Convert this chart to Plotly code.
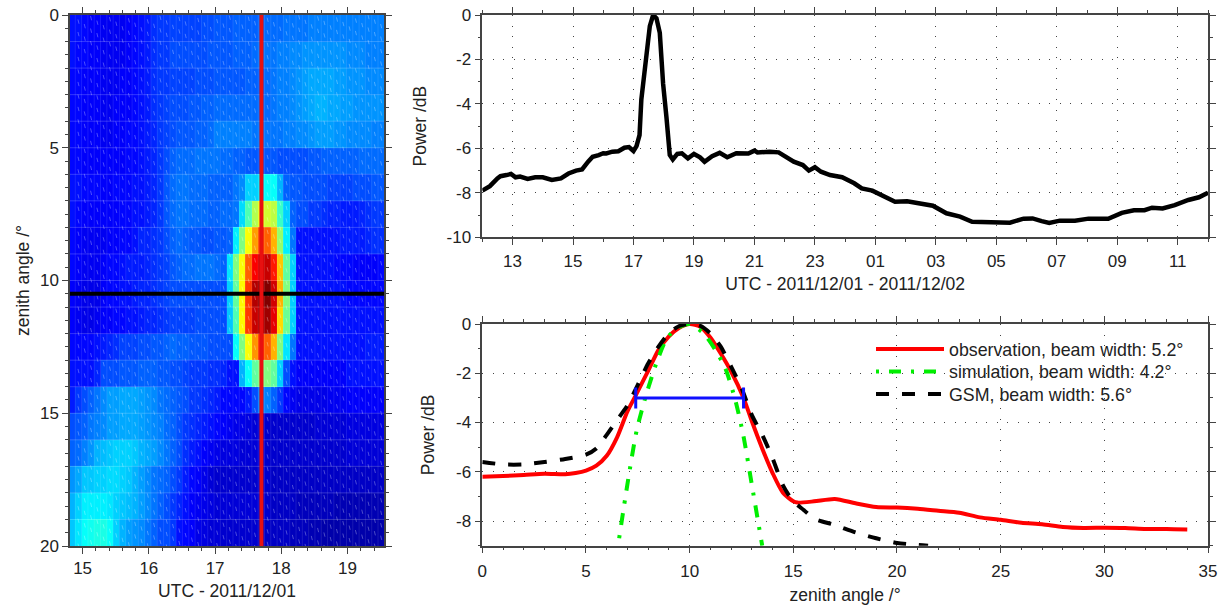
import plotly.graph_objects as go

# ---- heat map: one row per degree of zenith angle, one value per time column (level in % of the colour range)
row_00 = [14,14,13,12,12, 11,11,11,11,12, 13,14,15,17,18, 18,19,19,19,19, 19,20,20,21,21, 21,22,22,22,22, 23,23,23,23,24, 24,24,24,25,25, 25,25,25,25,25, 25,25,25,25,25]
row_01 = [14,13,13,12,12, 11,11,11,11,12, 13,14,15,17,18, 18,20,20,20,20, 20,20,21,21,21, 21,22,22,22,23, 24,24,24,25,25, 26,26,27,27,27, 27,27,27,27,26, 26,26,25,25,25]
row_02 = [13,13,12,12,12, 11,11,11,12,12, 13,14,15,17,18, 18,19,19,19,19, 20,20,20,21,21, 21,21,21,22,22, 22,23,24,25,25, 26,27,28,29,29, 29,29,28,28,27, 27,27,26,26,26]
row_03 = [13,13,12,12,12, 11,11,12,12,12, 13,14,15,17,18, 19,20,20,20,21, 21,22,22,23,23, 23,23,23,23,23, 23,23,24,25,25, 26,27,28,29,30, 30,29,29,28,28, 27,27,27,27,27]
row_04 = [13,13,12,12,12, 11,11,12,12,13, 13,14,15,16,18, 19,20,21,21,21, 22,22,23,25,25, 25,25,25,25,24, 24,24,24,24,25, 25,26,26,27,28, 28,28,27,27,26, 26,26,26,25,25]
row_05 = [13,13,12,12,12, 12,12,12,12,13, 13,14,15,16,18, 20,22,23,23,23, 24,24,24,24,23, 23,22,22,21,21, 21,21,21,20,20, 20,20,20,21,21, 22,22,22,22,22, 22,23,23,23,23]
row_06 = [14,14,13,13,13, 12,12,13,13,13, 14,14,15,16,18, 21,23,24,24,23, 23,23,22,22,22, 22,24,26,33,33, 35,38,38,30,22, 21,21,20,20,20, 20,19,19,19,19, 20,20,20,21,21]
row_07 = [14,13,12,12,12, 12,12,12,13,13, 14,14,15,16,18, 21,23,24,24,23, 23,23,22,22,23, 23,24,34,45,55, 60,58,56,43,33, 22,20,20,18,18, 17,16,16,15,15, 15,16,17,18,18]
row_08 = [13,12,11,11,11, 11,12,12,13,13, 14,16,16,17,18, 20,22,23,22,21, 21,20,20,21,21, 22,36,50,62,72, 80,78,70,52,36, 24,14,14,14,14, 14,14,14,15,15, 15,15,16,17,17]
row_09 = [13,12,11,11,11, 12,13,13,14,15, 15,15,16,17,18, 19,21,22,23,23, 24,24,24,23,22, 35,50,62,78,88, 92,93,85,68,47, 33,14,14,14,14, 14,14,13,13,13, 12,12,12,12,13]
row_10 = [12,11,10,10,10, 12,13,13,14,14, 15,16,16,17,18, 19,20,20,20,20, 20,20,20,20,20, 33,47,63,82,95, 98,100,92,70,50, 33,14,14,14,14, 14,14,14,14,13, 13,13,13,13,13]
row_11 = [12,11,10,10,11, 12,12,13,13,14, 14,15,16,16,17, 18,19,19,19,19, 20,20,20,20,20, 32,45,63,82,93, 96,97,90,66,48, 33,14,14,14,14, 14,14,14,14,14, 14,14,14,14,14]
row_12 = [13,13,13,13,14, 15,16,17,19,19, 19,20,20,21,21, 22,23,22,22,21, 21,21,20,20,20, 20,38,50,62,73, 82,78,70,50,35, 24,14,14,14,14, 14,14,14,14,14, 14,14,15,15,15]
row_13 = [14,14,14,14,16, 20,20,20,21,21, 21,22,22,22,21, 21,20,20,19,18, 18,18,17,17,16, 14,14,30,38,47, 50,50,47,33,20, 14,12,12,12,12, 12,12,12,12,14, 14,14,14,14,14]
row_14 = [15,18,20,22,24, 26,28,28,29,29, 29,28,27,26,24, 23,22,21,20,18, 18,17,16,15,13, 13,13,13,15,20, 25,25,22,18,13, 11,10,10,10,10, 10,11,11,11,12, 12,12,12,12,12]
row_15 = [20,21,22,24,25, 26,28,28,29,29, 29,28,27,26,25, 23,22,20,18,17, 16,15,14,13,12, 11,10,10,9,8, 7,7,7,7,7, 7,7,7,7,8, 8,8,8,8,9, 9,9,9,9,9]
row_16 = [22,23,25,27,30, 31,32,33,33,33, 32,30,29,28,26, 24,22,20,17,15, 14,12,11,10,9, 9,9,8,8,8, 8,7,7,7,7, 7,7,7,7,7, 7,7,7,7,8, 8,8,8,8,8]
row_17 = [27,29,32,32,33, 33,34,34,33,32, 30,28,26,24,23, 22,20,18,15,13, 12,10,8,7,7, 7,7,7,7,7, 7,7,6,6,6, 6,6,6,6,6, 6,6,6,6,6, 6,6,6,6,6]
row_18 = [30,33,36,36,36, 36,35,33,32,31, 30,28,26,24,22, 20,18,16,14,12, 11,10,9,8,8, 8,8,8,8,8, 7,7,6,6,6, 6,5,5,5,5, 5,5,4,4,4, 4,4,4,4,4]
row_19 = [32,35,38,39,40, 40,38,33,30,28, 27,26,24,22,20, 20,18,14,13,12, 10,9,8,8,7, 7,7,7,7,7, 6,6,6,6,6, 5,5,5,4,4, 3,3,3,3,3, 3,3,3,3,3]
heat_rows = [row_00,row_01,row_02,row_03,row_04,row_05,row_06,row_07,row_08,row_09,
             row_10,row_11,row_12,row_13,row_14,row_15,row_16,row_17,row_18,row_19]
cut_time = [17.7, 17.7]
cut_time_angle = [0, 20]
cut_angle = [10.5, 10.5]
cut_angle_time = [14.81, 19.55]

# ---- daily power curve (hours after 00 UTC on 2011/12/01)
day_hours = [12,12.25,12.5,12.6,12.8,12.95,13.1,13.25,13.5,13.75,14,14.3,14.6,14.85,15.1,15.3,15.5,15.65,15.85,16,16.1,16.3,16.5,16.7,16.85,17,17.1,17.2,17.26,17.43,17.54,17.65,17.76,17.87,17.98,18.09,18.2,18.3,18.45,18.6,18.8,19,19.2,19.35,19.6,19.85,20.1,20.4,20.8,21,21.1,21.5,21.8,22,22.3,22.6,22.8,23,23.2,23.5,23.9,24.3,24.55,24.9,25.27,25.65,26.05,26.5,26.9,27.35,27.8,28.2,28.65,29.15,29.45,29.9,30.2,30.5,30.75,31.1,31.6,32.05,32.7,33.15,33.55,33.9,34.15,34.5,34.9,35.35,35.7,36]
day_power = [-7.9,-7.7,-7.35,-7.25,-7.2,-7.15,-7.3,-7.27,-7.37,-7.3,-7.3,-7.42,-7.35,-7.13,-7,-6.95,-6.6,-6.38,-6.3,-6.22,-6.23,-6.15,-6.13,-5.97,-5.94,-6.12,-5.9,-5.4,-3.8,-2,-0.5,0,-0.15,-0.8,-3.1,-4.6,-6.3,-6.5,-6.25,-6.22,-6.45,-6.25,-6.4,-6.6,-6.35,-6.2,-6.4,-6.22,-6.23,-6.1,-6.18,-6.15,-6.18,-6.35,-6.6,-6.75,-7,-6.85,-7.05,-7.2,-7.3,-7.57,-7.8,-7.9,-8.17,-8.4,-8.38,-8.47,-8.58,-8.92,-9.07,-9.3,-9.32,-9.37,-9.34,-9.16,-9.15,-9.27,-9.35,-9.25,-9.25,-9.16,-9.17,-8.9,-8.78,-8.78,-8.67,-8.7,-8.55,-8.32,-8.2,-8]
day_tickvals = [13,15,17,19,21,23,25,27,29,31,33,35]
day_ticktext = ["13","15","17","19","21","23","01","03","05","07","09","11"]

# ---- beam patterns
obs_angle = [0,1,2,3,4,4.5,5,5.5,6,6.5,7,7.4,8,8.5,9,9.5,10,10.5,11,11.5,12,12.6,13,13.5,14,14.5,15,15.2,16,17,18,19,20,21,22,23,24,25,26,27,28,29,30,31,32,33,34]
obs_power = [-6.2,-6.17,-6.13,-6.08,-6.1,-6.05,-5.95,-5.75,-5.35,-4.6,-3.55,-2.9,-1.9,-1.05,-0.5,-0.15,0,-0.1,-0.55,-1.2,-1.93,-3,-3.95,-5.05,-6.05,-6.85,-7.2,-7.25,-7.2,-7.1,-7.28,-7.43,-7.45,-7.5,-7.58,-7.66,-7.85,-7.95,-8.07,-8.13,-8.24,-8.28,-8.27,-8.28,-8.32,-8.32,-8.34]
sim_angle = [6.6,7,7.45,7.94,8.42,8.9,9.4,10,10.67,11.24,11.72,12.2,12.6,13,13.33,13.5]
sim_power = [-8.7,-6.5,-4.3,-2.77,-1.53,-0.58,-0.17,0,-0.38,-1.05,-1.8,-3.08,-4.57,-6.53,-8.16,-9]
gsm_angle = [0,1,2,3,4,5,5.5,6,6.5,7,7.5,8,8.5,9,9.5,10,10.5,11,11.5,12,12.5,13,13.5,14,14.5,15,15.5,16,17,18,19,20,21,21.5]
gsm_power = [-5.6,-5.7,-5.7,-5.6,-5.48,-5.3,-5.05,-4.5,-3.9,-3.3,-2.47,-1.6,-0.92,-0.38,-0.08,0,-0.07,-0.38,-0.92,-1.73,-2.6,-3.7,-4.5,-5.45,-6.55,-7.2,-7.55,-7.9,-8.16,-8.46,-8.7,-8.89,-8.97,-9]
width_angle = [7.4, 12.6]
width_power = [-3, -3]

power_ticks_top = [0,-2,-4,-6,-8,-10]
power_ticks_bottom = [0,-2,-4,-6,-8]

JET = [[0, "rgb(0,0,143)"], [0.125, "rgb(0,0,255)"], [0.375, "rgb(0,255,255)"],
       [0.625, "rgb(255,255,0)"], [0.875, "rgb(255,0,0)"], [1, "rgb(128,0,0)"]]

W, H = 1223, 606
def xd(a, b): return [a / W, b / W]
def yd(top, bot): return [(H - bot) / H, (H - top) / H]

FONT = "Liberation Sans, Arial, sans-serif"
INK = "#222222"
FRAME = "#444444"

def axis(**kw):
    base = dict(showline=True, linecolor=FRAME, linewidth=1.5, mirror="ticks", ticks="outside",
                ticklen=6, tickwidth=1.2, tickcolor=FRAME, zeroline=False, automargin=False,
                tickfont=dict(family=FONT, size=17, color=INK))
    base.update(kw)
    return base

def title(text, standoff):
    return dict(text=text, standoff=standoff, font=dict(family=FONT, size=17.5, color=INK))

def minor(step):
    return dict(dtick=step, ticks="outside", ticklen=3, tickcolor=FRAME, tickwidth=1)

DOT = dict(showgrid=True, gridcolor="#444444", gridwidth=1, griddash="1px,9.5px")

fig = go.Figure()

# left panel
fig.add_trace(go.Heatmap(z=heat_rows, x0=14.843, dx=0.0952, y0=0.5, dy=1, colorscale=JET,
                         zmin=0, zmax=100, showscale=False, xaxis="x", yaxis="y", hoverinfo="skip"))
# faint screen pattern of the original rendering: row and column seams, slanted white flecks
hx, hy = [], []
for r in range(1, 20):
    hx += [14.81, 19.55, None]; hy += [r, r, None]
fig.add_trace(go.Scatter(x=hx, y=hy, mode="lines", line=dict(color="rgba(255,255,255,0.2)", width=1),
                         showlegend=False, xaxis="x", yaxis="y", hoverinfo="skip"))
vx, vy, fx, fy = [], [], [], []
for k in range(1, 50):
    e = 14.795 + 0.0952 * k
    vx += [e, e, None]; vy += [0, 20, None]
    m = e + 0.0476
    for j in range(0, 44):
        y = j * 0.47 + (k * 0.17) % 0.47
        fx += [m - 0.008, m + 0.008, None]; fy += [y, y + 0.16, None]
fig.add_trace(go.Scatter(x=vx, y=vy, mode="lines", line=dict(color="rgba(255,255,255,0.10)", width=1),
                         showlegend=False, xaxis="x", yaxis="y", hoverinfo="skip"))
fig.add_trace(go.Scatter(x=fx, y=fy, mode="lines", line=dict(color="rgba(255,255,255,0.30)", width=1),
                         showlegend=False, xaxis="x", yaxis="y", hoverinfo="skip"))
fig.add_trace(go.Scatter(x=cut_angle_time, y=cut_angle, mode="lines", line=dict(color="#000000", width=4),
                         showlegend=False, xaxis="x", yaxis="y"))
fig.add_trace(go.Scatter(x=cut_time, y=cut_time_angle, mode="lines", line=dict(color="#e81010", width=4),
                         showlegend=False, xaxis="x", yaxis="y"))

# top right panel
fig.add_trace(go.Scatter(x=day_hours, y=day_power, mode="lines", line=dict(color="#000000", width=4.5),
                         showlegend=False, xaxis="x2", yaxis="y2"))

# bottom right panel
fig.add_trace(go.Scatter(x=obs_angle, y=obs_power, mode="lines", name="observation, beam width: 5.2°",
                         line=dict(color="#ff0000", width=4, shape="spline", smoothing=0.7), xaxis="x3", yaxis="y3"))
fig.add_trace(go.Scatter(x=sim_angle, y=sim_power, mode="lines", name="simulation, beam width: 4.2°",
                         line=dict(color="#00ee00", width=4, dash="3px,10px,12px,10px", shape="spline", smoothing=0.7), xaxis="x3", yaxis="y3"))
fig.add_trace(go.Scatter(x=gsm_angle, y=gsm_power, mode="lines", name="GSM, beam width: 5.6°",
                         line=dict(color="#000000", width=4, dash="13px,13px", shape="spline", smoothing=0.7), xaxis="x3", yaxis="y3"))
fig.add_trace(go.Scatter(x=width_angle, y=width_power, mode="lines+markers",
                         line=dict(color="#1010ff", width=3),
                         marker=dict(symbol="line-ns", size=15, line=dict(color="#1010ff", width=3)),
                         showlegend=False, xaxis="x3", yaxis="y3"))

fig.update_layout(
    width=W, height=H, margin=dict(l=0, r=0, t=0, b=0), autosize=False,
    paper_bgcolor="white", plot_bgcolor="white",
    showlegend=True,
    legend=dict(x=871 / W, y=(H - 335) / H, xanchor="left", yanchor="top", bgcolor="rgba(0,0,0,0)",
                itemwidth=68, font=dict(family=FONT, size=17.8, color=INK), traceorder="normal"),
    xaxis=axis(domain=xd(70, 384), anchor="y", range=[14.81, 19.55], tickvals=[15,16,17,18,19],
               minor=minor(0.2), title=title("UTC - 2011/12/01", 8)),
    yaxis=axis(domain=yd(15, 546), anchor="x", range=[20, 0], tickvals=[0,5,10,15,20],
               minor=minor(0.5), title=title("zenith angle /°", 6)),
    xaxis2=axis(domain=xd(482.3, 1208), anchor="y2", range=[12, 36], tickvals=day_tickvals, ticktext=day_ticktext,
                ticklabelstandoff=2, minor=dict(minor(1), tick0=12),
                title=title("UTC - 2011/12/01 - 2011/12/02", 7), **DOT),
    yaxis2=axis(domain=yd(15, 237.3), anchor="x2", range=[-10, 0], tickvals=power_ticks_top,
                ticktext=[str(v) for v in power_ticks_top],
                minor=minor(1), title=title("Power /dB", 15), **DOT),
    xaxis3=axis(domain=xd(482.3, 1208), anchor="y3", range=[0, 35], tickvals=[0,5,10,15,20,25,30,35],
                ticklabelstandoff=3, minor=minor(1), title=title("zenith angle /°", 9), **DOT),
    yaxis3=axis(domain=yd(324, 545.7), anchor="x3", range=[-9, 0], tickvals=power_ticks_bottom,
                ticktext=[str(v) for v in power_ticks_bottom],
                minor=minor(1), title=title("Power /dB", 17), **DOT),
)

POST = """
document.body.style.margin='0';document.body.style.overflow='hidden';
document.querySelectorAll('.legend .traces').forEach(function(t,i){
  var m=/translate\\(([^,]+),/.exec(t.getAttribute('transform'));
  t.setAttribute('transform','translate('+(m?m[1]:0)+','+(14+i*22.5)+')');
});
"""
fig.write_html("out.html", config={"displayModeBar": False}, post_script=POST)
